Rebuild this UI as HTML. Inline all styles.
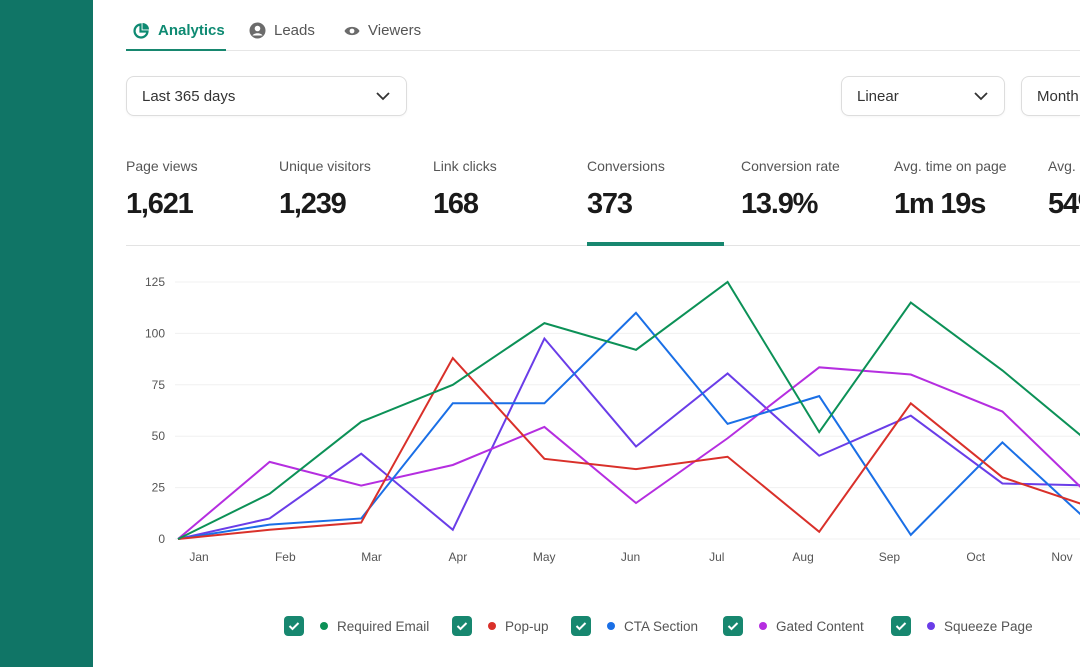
<!DOCTYPE html>
<html><head><meta charset="utf-8"><style>
*{box-sizing:border-box;margin:0;padding:0}
html,body{width:1080px;height:667px;overflow:hidden}
body{background:#fff;font-family:"Liberation Sans",sans-serif;position:relative;color:#222}
#wrap{position:absolute;left:0;top:0;width:1080px;height:667px;overflow:hidden}
.abs{position:absolute}
#side{left:0;top:0;width:93px;height:667px;background:#107566}
.tab{top:22px;font-size:15px;color:#555;display:flex;align-items:center;gap:8px}
.dd{border:1px solid #ddd;border-radius:8px;height:40px;top:76px;font-size:15px;color:#333;display:flex;align-items:center;padding-left:15px;box-shadow:0 1px 2px rgba(0,0,0,.04);overflow:hidden}
.dd svg{position:absolute;right:16px;top:14px}
.st{top:158px;white-space:nowrap}
.st .l{font-size:14px;color:#555}
.st .v{font-size:29px;font-weight:bold;color:#1a1a1a;margin-top:14px;letter-spacing:-1.2px}
.lg{top:616px;display:flex;align-items:center;font-size:13.5px;color:#555;white-space:nowrap}
.cb{width:20px;height:20px;background:#17876f;border-radius:4px;display:flex;align-items:center;justify-content:center;margin-right:16px}
.dot{width:8px;height:8px;border-radius:50%;margin-right:9px}
</style></head><body><div id="wrap">
<div id="side" class="abs"></div>
<div class="abs tab" style="left:133px;color:#0e8a72;font-weight:bold">
<svg width="17" height="17" viewBox="0 0 17 17"><path d="M7.5 2.5A6.5 6.5 0 1 0 14.5 9.5H7.5Z" fill="none" stroke="#0e8a72" stroke-width="2.2"/><path d="M9.5 1v6.5H16A6.5 6.5 0 0 0 9.5 1Z" fill="#0e8a72"/></svg>Analytics</div>
<div class="abs tab" style="left:249px"><svg width="17" height="17" viewBox="0 0 17 17"><circle cx="8.5" cy="8.5" r="8" fill="#6b6b6b"/><circle cx="8.5" cy="6.5" r="2.8" fill="#fff"/><path d="M3.5 13.5c1.5-3 8.5-3 10 0" fill="#fff"/></svg>Leads</div>
<div class="abs tab" style="left:344px"><svg width="16" height="12" viewBox="0 0 16 12"><path d="M0.5 6C3 0.5 13 0.5 15.5 6C13 11.5 3 11.5 0.5 6Z" fill="#6b6b6b"/><circle cx="8" cy="6" r="2.4" fill="#fff"/></svg>Viewers</div>
<div class="abs" style="left:126px;top:49px;width:100px;height:2px;background:#17876f"></div>
<div class="abs" style="left:226px;top:50px;width:854px;height:1px;background:#e6e6e6"></div>
<div class="abs dd" style="left:126px;width:281px">Last 365 days<svg width="14" height="10"><path d="M1 2l6 6 6-6" fill="none" stroke="#333" stroke-width="1.8"/></svg></div>
<div class="abs dd" style="left:841px;width:164px">Linear<svg width="14" height="10"><path d="M1 2l6 6 6-6" fill="none" stroke="#333" stroke-width="1.8"/></svg></div>
<div class="abs dd" style="left:1021px;width:59px;border-right:none;border-radius:8px 0 0 8px">Month</div>
<div class="abs st" style="left:126px"><div class="l">Page views</div><div class="v">1,621</div></div>
<div class="abs st" style="left:279px"><div class="l">Unique visitors</div><div class="v">1,239</div></div>
<div class="abs st" style="left:433px"><div class="l">Link clicks</div><div class="v">168</div></div>
<div class="abs st" style="left:587px"><div class="l">Conversions</div><div class="v">373</div></div>
<div class="abs st" style="left:741px"><div class="l">Conversion rate</div><div class="v">13.9%</div></div>
<div class="abs st" style="left:894px"><div class="l">Avg. time on page</div><div class="v">1m 19s</div></div>
<div class="abs st" style="left:1048px;width:32px;overflow:hidden"><div class="l">Avg. bounce</div><div class="v">54%</div></div>
<div class="abs" style="left:126px;top:245px;width:954px;height:1px;background:#e3e3e3"></div>
<div class="abs" style="left:587px;top:242px;width:137px;height:4px;background:#17876f"></div>
<svg id="chart" class="abs" style="left:0;top:0" width="1080" height="667"></svg>
<div class="abs lg" style="left:284px"><div class="cb"><svg width="12" height="10"><path d="M1.5 5l3 3 6-6" fill="none" stroke="#fff" stroke-width="2"/></svg></div><div class="dot" style="background:#0c9157"></div>Required Email</div>
<div class="abs lg" style="left:452px"><div class="cb"><svg width="12" height="10"><path d="M1.5 5l3 3 6-6" fill="none" stroke="#fff" stroke-width="2"/></svg></div><div class="dot" style="background:#d9302a"></div>Pop-up</div>
<div class="abs lg" style="left:571px"><div class="cb"><svg width="12" height="10"><path d="M1.5 5l3 3 6-6" fill="none" stroke="#fff" stroke-width="2"/></svg></div><div class="dot" style="background:#1a6fe6"></div>CTA Section</div>
<div class="abs lg" style="left:723px"><div class="cb"><svg width="12" height="10"><path d="M1.5 5l3 3 6-6" fill="none" stroke="#fff" stroke-width="2"/></svg></div><div class="dot" style="background:#b52ee0"></div>Gated Content</div>
<div class="abs lg" style="left:891px"><div class="cb"><svg width="12" height="10"><path d="M1.5 5l3 3 6-6" fill="none" stroke="#fff" stroke-width="2"/></svg></div><div class="dot" style="background:#6a3de8"></div>Squeeze Page</div>
</div>
<script>
const months=["Jan","Feb","Mar","Apr","May","Jun","Jul","Aug","Sep","Oct","Nov"];
const yTicks=[0,25,50,75,100,125];
const requiredEmail=[0,22,57,75,105,92,125,52,115,82,45];
const popUp=[0,4.5,8,88,39,34,40,3.5,66,30,15];
const ctaSection=[0,7,10,66,66,110,56,69.5,2,47,6];
const gatedContent=[0,37.5,26,36,54.5,17.5,49,83.5,80,62,19];
const squeezePage=[0,10,41.5,4.5,97.5,45,80.5,40.5,60,27,26];
const NS="http://www.w3.org/2000/svg";
const svg=document.getElementById('chart');
const x=i=>178+i*91.6;
const lx=i=>199+i*86.3;
const y=v=>539-v*(257/125);
function mk(t,a){const e=document.createElementNS(NS,t);for(const k in a)e.setAttribute(k,a[k]);svg.appendChild(e);return e;}
yTicks.forEach(t=>{
 const g=mk('line',{x1:175,x2:1080,y1:y(t),y2:y(t),stroke:'#f0f0f0','stroke-width':1});
 
 
 const l=mk('text',{x:165,y:y(t)+4,'text-anchor':'end','font-size':12,fill:'#555','font-family':'Liberation Sans'});
 l.textContent=t;
 
 
});
months.forEach((m,i)=>{
 const l=mk('text',{x:lx(i),y:561,'text-anchor':'middle','font-size':12,fill:'#555','font-family':'Liberation Sans'});
 l.textContent=m;
 
 
});
const series=[[squeezePage,'#6a3de8','squeeze-page-line'],[gatedContent,'#b52ee0','gated-content-line'],[ctaSection,'#1a6fe6','cta-section-line'],[popUp,'#d9302a','pop-up-line'],[requiredEmail,'#0c9157','required-email-line']];
series.forEach(([d,c,n])=>{
 const p=mk('polyline',{points:d.map((v,i)=>x(i)+','+y(v)).join(' '),fill:'none',stroke:c,'stroke-width':2,'stroke-linejoin':'miter'});
 
 
});
</script>
</body></html>
